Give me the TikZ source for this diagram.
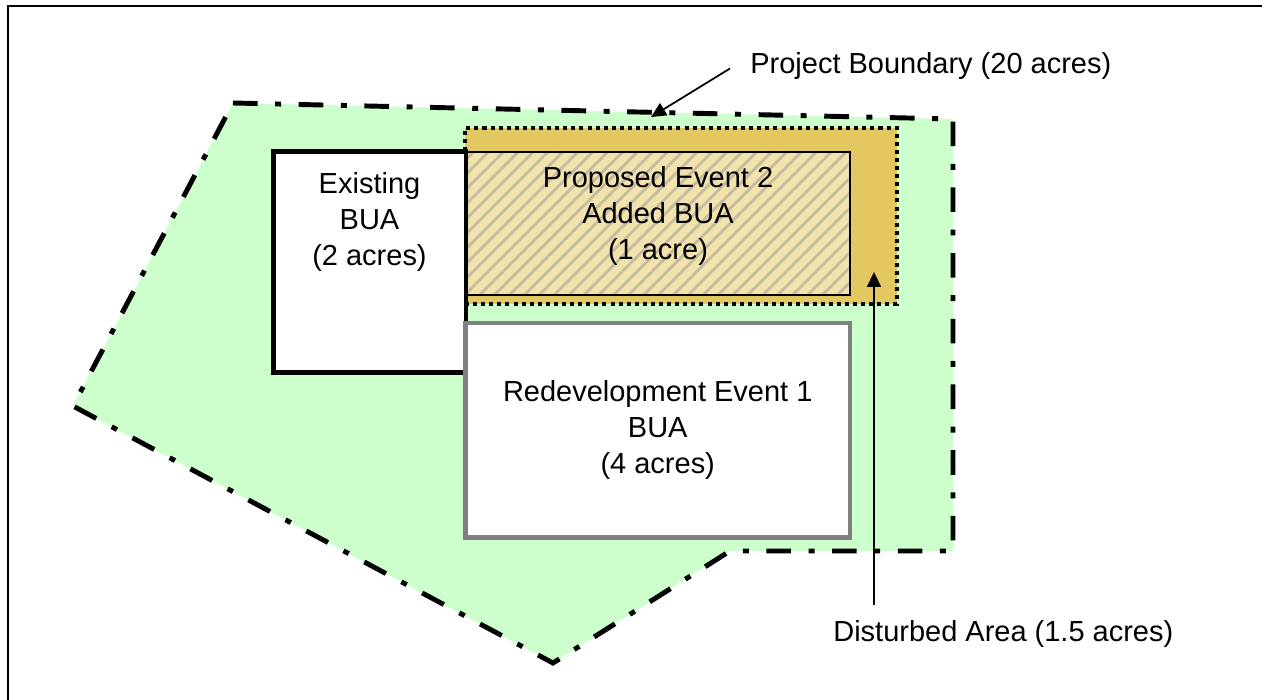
\documentclass[tikz,border=0pt]{standalone}
\usepackage{fontspec}
\setmainfont{Liberation Sans}
\usetikzlibrary{shapes, arrows.meta, patterns.meta, positioning}

\definecolor{sitegreen}{RGB}{204,255,204}
\definecolor{disturbgold}{RGB}{227,200,98}
\definecolor{addedtan}{RGB}{242,227,172}
\definecolor{hatchgray}{RGB}{196,188,160}
\definecolor{redevgray}{RGB}{128,128,128}

\begin{document}
\begin{tikzpicture}[
  x=0.02cm, y=-0.02cm,
  every node/.style={font=\fontsize{16.5pt}{20.5pt}\selectfont, align=center, inner sep=0pt},
  bua/.style={rectangle, draw},
  boundary/.style={line width=2.8pt, dash pattern=on 14pt off 10pt on 3.4pt off 10pt},
  callout/.style={line width=1pt, -{Triangle[length=8.5pt, width=8pt]}}]

  \useasboundingbox (0,0) rectangle (1262,700);
  \draw[line width=1.5pt] (8,700) -- (8,6) -- (1262,6);

  % project boundary
  \coordinate (pa) at (233,103);
  \coordinate (pb) at (953,119);
  \coordinate (pc) at (953,551);
  \coordinate (pd) at (730,551);
  \coordinate (pe) at (553,663);
  \coordinate (pf) at (73,406);
  \fill[sitegreen] (pa) -- (pb) -- (pc) -- (pd) -- (pe) -- (pf) -- cycle;
  \draw[boundary] (pa) -- (pb) -- (pc) -- (pd) -- (pe) -- (pf) -- cycle;

  \node[bua, fill=disturbgold, line width=2.3pt, dash pattern=on 2.3pt off 2.3pt,
    minimum width=8.64cm, minimum height=3.52cm] (disturbed) at (681,216) {};
  \node[bua, preaction={fill=addedtan}, pattern={Lines[angle=45, distance=6pt, line width=1.6pt]},
    pattern color=hatchgray, line width=0.8pt,
    minimum width=7.68cm, minimum height=2.86cm] (added) at (658,223.5) {};
  \node[bua, fill=white, line width=2.8pt,
    minimum width=3.85cm, minimum height=4.42cm] (existing) at (369.75,262) {};
  \node[bua, fill=white, draw=redevgray, line width=2.8pt,
    minimum width=7.69cm, minimum height=4.29cm] (redev) at (657.75,430.25) {};

  \node (existingtxt) at (369.5,222) {Existing\\BUA\\(2 acres)};
  \node (addedtxt) at (658,216) {Proposed Event 2\\Added BUA\\(1 acre)};
  \node (redevtxt) at (657.75,430) {Redevelopment Event 1\\BUA\\(4 acres)};

  \node[anchor=west] (boundarylbl) at (750,66) {Project Boundary (20 acres)};
  \node[anchor=west] (disturbedlbl) at (833,634) {Disturbed Area (1.5 acres)};
  \coordinate (boundarytip) at (651,117);
  \coordinate (disturbedtip) at (874,272);

  \draw[callout] ([xshift=-0.4cm, yshift=-0.05cm]boundarylbl.west) -- (boundarytip);
  \draw[callout] ([yshift=0.3cm]disturbedlbl.north -| disturbedtip) -- (disturbedtip);
\end{tikzpicture}
\end{document}
